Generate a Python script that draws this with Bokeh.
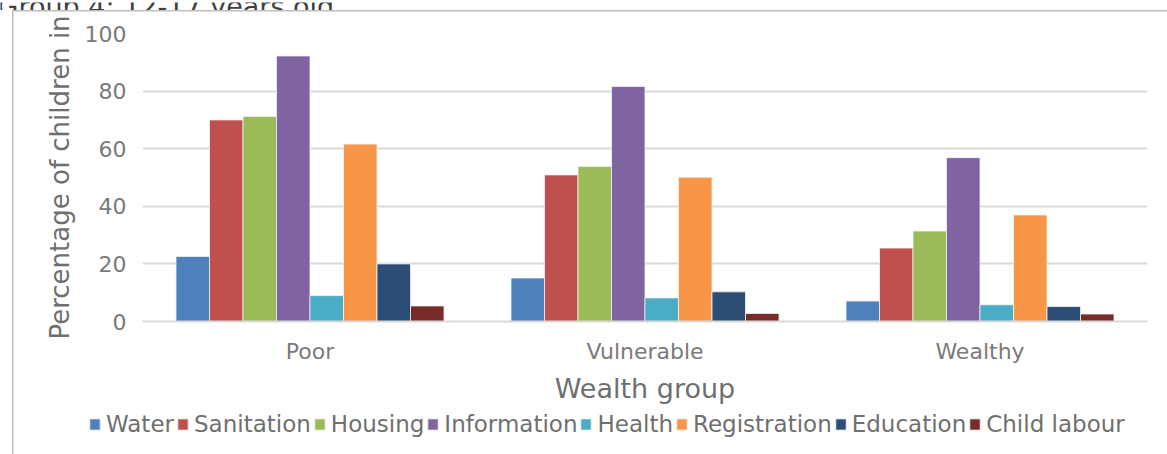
from bokeh.plotting import figure
from bokeh.models import Range1d, Legend, LegendItem, FixedTicker
from bokeh.transform import dodge
from bokeh.embed import file_html
from bokeh.resources import INLINE

title_text = "Group 4: 12-17 years old"
categories = ["Poor", "Vulnerable", "Wealthy"]
water = [22.6, 15.1, 7.1]
sanitation = [70.0, 50.9, 25.5]
housing = [71.2, 53.8, 31.4]
information = [92.2, 81.6, 56.9]
health = [9.0, 8.2, 5.8]
registration = [61.6, 50.1, 37.0]
education = [20.0, 10.3, 5.2]
child_labour = [5.4, 2.8, 2.6]

series_names = ["Water", "Sanitation", "Housing", "Information", "Health",
                "Registration", "Education", "Child labour"]
series_values = [water, sanitation, housing, information, health,
                 registration, education, child_labour]
colors = ["#4F81BD", "#C0504D", "#9BBB59", "#8064A2", "#4BACC6",
          "#F79646", "#2C4D75", "#772C2A"]
y_ticks = [0, 20, 40, 60, 80, 100]

FONT = "DejaVu Sans"
TXT = "#6f6f6f"
W = 1167
EDGE = "#bfbfbf"
left_edge = f"linear-gradient({EDGE}, {EDGE}) 12px 0px / 1.5px 100% no-repeat"
top_edge = f"linear-gradient({EDGE}, {EDGE}) 12px 0px / 100% 1.5px no-repeat"


def bare(fig):
    fig.outline_line_color = None
    fig.background_fill_color = None
    fig.border_fill_color = None
    fig.grid.visible = False


# ---- title strip (the original crop only shows the bottom of the title) ----
pt = figure(width=W, height=10, x_range=Range1d(0, W), y_range=Range1d(0, 10),
            x_axis_location=None, y_axis_location=None, min_border=0,
            output_backend="svg", toolbar_location=None)
bare(pt)
pt.text(x=[-3], y=[6.5], text=[title_text], text_font_size="27px",
        text_color="#404040", text_baseline="alphabetic", text_align="left",
        text_font={"value": FONT})

# ---- main chart ----
source = {"cat": categories}
for name, vals in zip(series_names, series_values):
    source[name] = vals

p = figure(x_range=categories, y_range=Range1d(0, 100),
           width=W, height=398, output_backend="svg", toolbar_location=None,
           min_border_left=142, min_border_right=20, min_border_top=23,
           min_border_bottom=87)
p.styles = {"background": f"{left_edge}, {top_edge}, white"}
p.outline_line_color = None
p.background_fill_color = "white"
p.border_fill_color = None

n = len(series_names)
bw = 0.1
for i, (name, col) in enumerate(zip(series_names, colors)):
    off = (i - (n - 1) / 2) * bw
    p.vbar(x=dodge("cat", off, range=p.x_range), top=name, width=bw,
           source=source, fill_color=col, line_color="#f4f4f4", line_width=0.8)

p.yaxis.ticker = FixedTicker(ticks=y_ticks)
p.yaxis.axis_line_color = None
p.yaxis.major_tick_line_color = None
p.yaxis.minor_tick_line_color = None
p.yaxis.major_label_text_font = FONT
p.yaxis.major_label_text_font_size = "22px"
p.yaxis.major_label_text_color = "#7a7a7a"
p.yaxis.major_label_standoff = 10
p.yaxis.axis_label = "Percentage of children in"
p.yaxis.axis_label_text_font = FONT
p.yaxis.axis_label_text_font_size = "26px"
p.yaxis.axis_label_text_font_style = "normal"
p.yaxis.axis_label_text_color = TXT
p.yaxis.axis_label_standoff = 7

p.xaxis.axis_line_color = "#d9d9d9"
p.xaxis.axis_line_width = 2
p.xaxis.major_tick_line_color = None
p.xaxis.minor_tick_line_color = None
p.xaxis.major_label_text_font = FONT
p.xaxis.major_label_text_font_size = "22px"
p.xaxis.major_label_text_color = "#7a7a7a"
p.xaxis.major_label_standoff = 11
p.xaxis.axis_label = "Wealth group"
p.xaxis.axis_label_text_font = FONT
p.xaxis.axis_label_text_font_size = "27px"
p.xaxis.axis_label_text_font_style = "normal"
p.xaxis.axis_label_text_color = TXT
p.xaxis.axis_label_standoff = 6

p.xgrid.grid_line_color = None
p.ygrid.grid_line_color = "#d9d9d9"
p.ygrid.grid_line_width = 2

# ---- legend strip ----
pl = figure(x_range=categories, y_range=Range1d(0, 100), width=W, height=46,
            x_axis_location=None, y_axis_location=None, min_border=0,
            output_backend="svg", toolbar_location=None)
bare(pl)
pl.styles = {"background": f"{left_edge}, white"}
renderers = []
for i, (name, col) in enumerate(zip(series_names, colors)):
    off = (i - (n - 1) / 2) * bw
    r = pl.vbar(x=dodge("cat", off, range=pl.x_range), top=name, width=bw,
                source=source, fill_color=col, line_color="#f4f4f4",
                line_width=0.8, visible=False)
    renderers.append(r)

legend = Legend(items=[LegendItem(label=nm, renderers=[r])
                       for nm, r in zip(series_names, renderers)],
                orientation="horizontal", location=(88, 17),
                padding=0, margin=0, spacing=2, label_standoff=5,
                glyph_width=13, glyph_height=14,
                label_text_font=FONT, label_text_font_size="23px",
                label_text_color=TXT, border_line_color=None,
                background_fill_alpha=0, inactive_fill_alpha=0)
pl.add_layout(legend)

open("out.html", "w").write(file_html([pt, p, pl], INLINE))
